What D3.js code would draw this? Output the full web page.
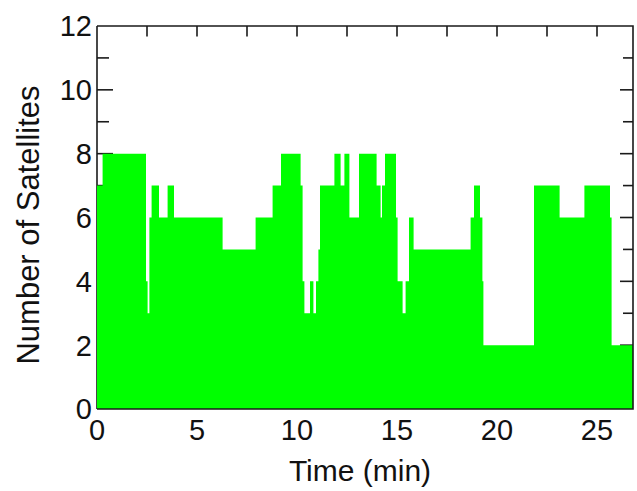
<!DOCTYPE html>
<html>
<head>
<meta charset="utf-8">
<script src="https://cdn.jsdelivr.net/npm/d3@7"></script>
<style>
  html, body { margin: 0; padding: 0; background: #fff; }
  svg text { font-family: Arial, "Liberation Sans", sans-serif; fill: #111; }
</style>
</head>
<body>
<svg id="chart" width="637" height="491"></svg>
<script>
// satellite count per time segment (start of segment, minutes)
var startMin = [0, 0.28, 2.45, 2.53, 2.62, 2.73, 3.10, 3.53, 3.85, 6.28, 7.93,
    8.78, 9.20, 10.18, 10.28, 10.37, 10.65, 10.82, 10.95, 11.07, 11.15, 11.87,
    12.18, 12.37, 12.62, 13.10, 13.98, 14.18, 14.25, 14.40, 14.95, 15.03, 15.28,
    15.43, 15.60, 15.83, 18.68, 18.85, 19.15, 19.27, 19.32, 21.85, 23.13, 24.37,
    25.65, 25.73];
var satCount = [7, 8, 4, 3, 6, 7, 6, 7, 6, 5, 6,
    7, 8, 7, 4, 3, 4, 3, 4, 5, 7, 8,
    7, 8, 6, 8, 7, 6, 7, 8, 6, 4, 3,
    4, 6, 5, 6, 7, 6, 4, 2, 7, 6, 7,
    6, 2];
var endMin = 26.8;

var xLabels = [0, 5, 10, 15, 20, 25];
var xMinor = [2.5, 7.5, 12.5, 17.5, 22.5];
var yLabels = [0, 2, 4, 6, 8, 10, 12];
var yMinor = [1, 3, 5, 7, 9, 11];

(function () {
    var pLeft = 97, pRight = 633, pTop = 26, pBottom = 409;

    var svg = d3.select("#chart");
    var x = d3.scaleLinear().domain([0, endMin]).range([pLeft, pRight]);
    var y = d3.scaleLinear().domain([0, 12]).range([pBottom, pTop]);

    var ink = "#1a1a1a";

    // left / right ticks
    function yTicks(vals, lenL, lenR) {
        vals.forEach(function (v) {
            svg.append("line").attr("x1", pLeft).attr("x2", pLeft + lenL)
                .attr("y1", y(v)).attr("y2", y(v))
                .attr("stroke", ink).attr("stroke-width", 1.6);
            svg.append("line").attr("x1", pRight).attr("x2", pRight - lenR)
                .attr("y1", y(v)).attr("y2", y(v))
                .attr("stroke", ink).attr("stroke-width", 1.6);
        });
    }
    yTicks(yLabels.slice(1, -1), 16, 13);
    yTicks(yMinor, 12, 10);

    // top / bottom ticks
    xLabels.concat(xMinor).forEach(function (v) {
        if (v === 0) return;
        svg.append("line").attr("x1", x(v)).attr("x2", x(v))
            .attr("y1", pTop).attr("y2", pTop + 10.5)
            .attr("stroke", ink).attr("stroke-width", 1.6);
        svg.append("line").attr("x1", x(v)).attr("x2", x(v))
            .attr("y1", pBottom).attr("y2", pBottom - 10.5)
            .attr("stroke", ink).attr("stroke-width", 1.6);
    });

    // left axis line (under the fill)
    svg.append("line").attr("x1", pLeft).attr("x2", pLeft)
        .attr("y1", pTop).attr("y2", pBottom)
        .attr("stroke", ink).attr("stroke-width", 1.6);

    // step area
    var pts = startMin.map(function (t, i) { return [t, satCount[i]]; });
    pts.push([endMin, satCount[satCount.length - 1]]);

    var area = d3.area()
        .curve(d3.curveStepAfter)
        .x(function (d) { return x(d[0]); })
        .y0(y(0))
        .y1(function (d) { return y(d[1]); });

    svg.append("path").datum(pts)
        .attr("d", area)
        .attr("fill", "#00ff00");

    // frame: top, right, bottom
    svg.append("path")
        .attr("d", "M" + pLeft + "," + pTop + "H" + pRight + "V" + pBottom + "H" + pLeft)
        .attr("fill", "none").attr("stroke", ink).attr("stroke-width", 1.6);

    // tick labels
    svg.selectAll(".ylab").data(yLabels).enter().append("text")
        .attr("x", 92).attr("y", function (d) { return y(d); })
        .attr("dy", "0.36em")
        .attr("text-anchor", "end")
        .style("font-size", "29px")
        .text(function (d) { return d; });

    svg.selectAll(".xlab").data(xLabels).enter().append("text")
        .attr("x", function (d) { return x(d); }).attr("y", 440)
        .attr("text-anchor", "middle")
        .style("font-size", "29px")
        .text(function (d) { return d; });

    // axis titles
    svg.append("text")
        .attr("x", 360).attr("y", 481)
        .attr("text-anchor", "middle")
        .style("font-size", "30px")
        .text("Time (min)");

    svg.append("text")
        .attr("transform", "translate(39,225) rotate(-90)")
        .attr("text-anchor", "middle")
        .style("font-size", "31px")
        .text("Number of Satellites");
})();
</script>
</body>
</html>
